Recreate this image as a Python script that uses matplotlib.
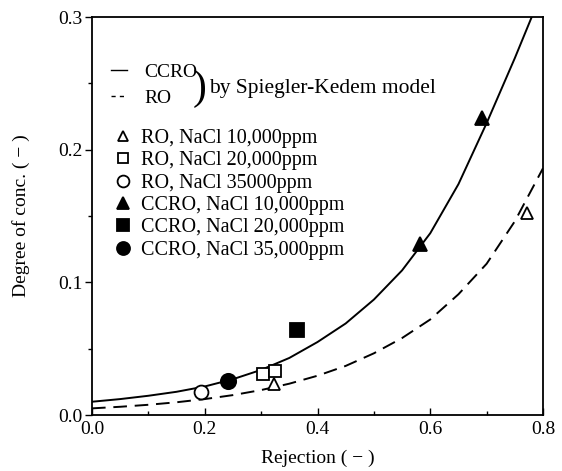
import matplotlib
matplotlib.use("Agg")
import matplotlib.pyplot as plt
from matplotlib.lines import Line2D
from matplotlib.ticker import MultipleLocator

plt.rcParams['font.family'] = ['Liberation Serif', 'DejaVu Serif']

# Model curves (Spiegler-Kedem)
ccro_model_x = [0.00, 0.05, 0.10, 0.15, 0.20, 0.25, 0.30, 0.35, 0.40, 0.45, 0.50,
                0.55, 0.60, 0.65, 0.70, 0.75, 0.78]
ccro_model_y = [0.010, 0.012, 0.0145, 0.0175, 0.0215, 0.027, 0.034, 0.043, 0.055, 0.069,
                0.087, 0.109, 0.137, 0.174, 0.220, 0.269, 0.300]
ro_model_x = [0.00, 0.05, 0.10, 0.15, 0.20, 0.25, 0.30, 0.35, 0.40, 0.45, 0.50,
              0.55, 0.60, 0.65, 0.70, 0.75, 0.80]
ro_model_y = [0.005, 0.0062, 0.0077, 0.0096, 0.012, 0.015, 0.0188, 0.0236, 0.0296, 0.037,
              0.0465, 0.058, 0.072, 0.091, 0.114, 0.146, 0.186]

# Experimental points
ro10_x, ro10_y = [0.322, 0.772], [0.023, 0.152]
ro20_x, ro20_y = [0.304, 0.324], [0.031, 0.033]
ro35_x, ro35_y = [0.194], [0.017]
ccro10_x, ccro10_y = [0.582, 0.691], [0.129, 0.224]
ccro20_x, ccro20_y = [0.364], [0.064]
ccro35_x, ccro35_y = [0.242], [0.026]

labels = ["RO, NaCl 10,000ppm", "RO, NaCl 20,000ppm", "RO, NaCl 35000ppm",
          "CCRO, NaCl 10,000ppm", "CCRO, NaCl 20,000ppm", "CCRO, NaCl 35,000ppm"]
x_ticks = [0.0, 0.2, 0.4, 0.6, 0.8]
y_ticks = [0.0, 0.1, 0.2, 0.3]

W, H = 562, 471
fig = plt.figure(figsize=(W / 100, H / 100), dpi=100)
ax = fig.add_axes([92 / W, 1 - 415 / H, (543 - 92) / W, (415 - 17) / H])

dash = (0, (7, 4))
ax.plot(ccro_model_x, ccro_model_y, color='black', lw=1.4, solid_joinstyle='round')
ax.plot(ro_model_x, ro_model_y, color='black', lw=1.4, ls=dash)

mk = dict(color='black', ls='none', mew=1.3)
h1, = ax.plot(ro10_x, ro10_y, marker='^', ms=9, mfc='white', **mk)
h2, = ax.plot(ro20_x, ro20_y, marker='s', ms=9, mfc='white', **mk)
h3, = ax.plot(ro35_x, ro35_y, marker='o', ms=10, mfc='white', **mk)
h4, = ax.plot(ccro10_x, ccro10_y, marker='^', ms=10, mfc='black', **mk)
h5, = ax.plot(ccro20_x, ccro20_y, marker='s', ms=10, mfc='black', **mk)
h6, = ax.plot(ccro35_x, ccro35_y, marker='o', ms=11, mfc='black', **mk)

ax.set_xlim(0, 0.8)
ax.set_ylim(0, 0.3)
ax.set_xticks(x_ticks)
ax.set_yticks(y_ticks)
ax.set_xticklabels([f"{v:.1f}" for v in x_ticks])
ax.set_yticklabels([f"{v:.1f}" for v in y_ticks])
ax.xaxis.set_minor_locator(MultipleLocator(0.1))
ax.yaxis.set_minor_locator(MultipleLocator(0.05))
ax.tick_params(axis='x', which='major', direction='in', length=5, width=1, labelsize=14, pad=4)
ax.tick_params(axis='x', which='minor', direction='in', length=3, width=1)
ax.tick_params(axis='y', which='major', direction='out', length=5, width=1, labelsize=14, pad=2)
ax.tick_params(axis='y', which='minor', direction='out', length=3, width=1)
for s in ax.spines.values():
    s.set_linewidth(1.3)

ax.set_xlabel("Rejection ( − )", fontsize=14, labelpad=9)
ax.set_ylabel("Degree of conc. ( − )", fontsize=14, labelpad=20)

# Line legend
leg1 = ax.legend([Line2D([], [], color='black', lw=1.0),
                  Line2D([], [], color='black', lw=1.0, ls=(0, (3, 3)))],
                 ["CCRO", "RO"], loc='upper left',
                 bbox_to_anchor=((111 - 92) / 451, (415 - 63) / 398),
                 frameon=False, fontsize=14, handlelength=0.8, handletextpad=0.9,
                 labelspacing=0.45, borderpad=0, borderaxespad=0)
ax.add_artist(leg1)
fig.text(193 / W, 1 - 89 / H, ")", fontsize=30, va='center', ha='left')
fig.text(209 / W, 1 - 88 / H, "by Spiegler-Kedem model", fontsize=15.5, va='center', ha='left')

# Marker legend
ax.legend([h1, h2, h3, h4, h5, h6], labels, loc='upper left',
          bbox_to_anchor=((115 - 92) / 451, (415 - 129) / 398),
          frameon=False, fontsize=14.5, handlelength=0.8, handletextpad=0.5,
          labelspacing=0.16, borderpad=0, borderaxespad=0, markerscale=0.85)

fig.savefig("out.png", dpi=100)
